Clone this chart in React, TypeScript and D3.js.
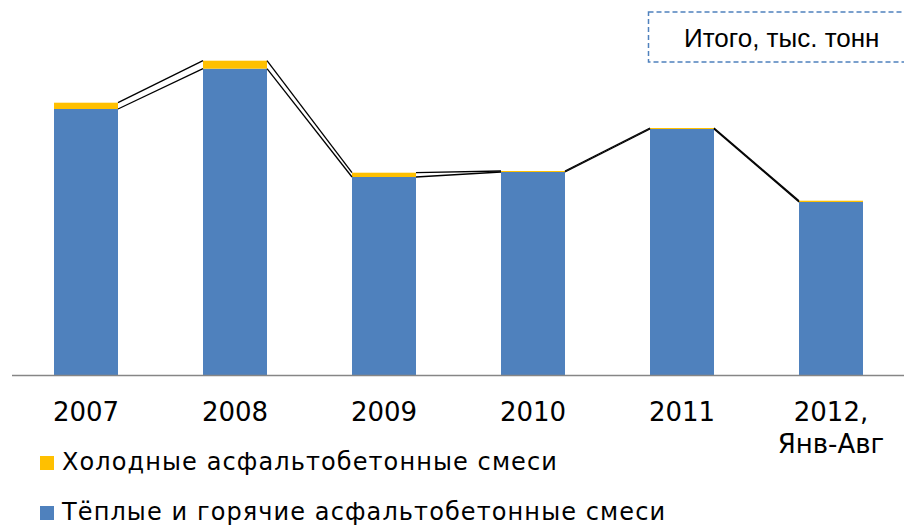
import React, { useEffect, useRef } from 'react';
import * as d3 from 'd3';

const categories = ['2007', '2008', '2009', '2010', '2011', '2012,\nЯнв-Авг'];
const warmHot = [2660, 3063, 1980, 2030, 2460, 1730];
const cold = [63, 80, 43, 10, 10, 13];
const legendLabels = ['Холодные асфальтобетонные смеси', 'Тёплые и горячие асфальтобетонные смеси'];
const totalLabel = 'Итого, тыс. тонн';

const W = 904;
const H = 526;
const BLUE = '#4F81BD';
const YELLOW = '#FFC000';

export default function App() {
  const svgRef = useRef<SVGSVGElement>(null);

  useEffect(() => {
    const svg = d3.select(svgRef.current);
    svg.selectAll('*').remove();

    const x = d3
      .scaleBand()
      .domain(categories)
      .range([11.5, 905.5])
      .paddingInner(0.5705)
      .paddingOuter(0.5705 / 2);
    const y = d3.scaleLinear().domain([0, 3750]).range([375, 0]);
    const bw = x.bandwidth();

    const rows = categories.map((c, i) => ({
      cat: c,
      warm: warmHot[i],
      cold: cold[i],
      total: warmHot[i] + cold[i],
    }));

    // bars
    const g = svg.append('g');
    g.selectAll('rect.warm')
      .data(rows)
      .enter()
      .append('rect')
      .attr('x', (d) => x(d.cat)!)
      .attr('y', (d) => y(d.warm))
      .attr('width', bw)
      .attr('height', (d) => y(0) - y(d.warm))
      .attr('fill', BLUE);

    g.selectAll('rect.cold')
      .data(rows)
      .enter()
      .append('rect')
      .attr('x', (d) => x(d.cat)!)
      .attr('y', (d) => y(d.total))
      .attr('width', bw)
      .attr('height', (d) => y(d.warm) - y(d.total))
      .attr('fill', YELLOW);

    // series lines between bar tops
    const seriesLines = (acc: (d: typeof rows[0]) => number) =>
      g
        .selectAll(null)
        .data(rows.slice(0, -1))
        .enter()
        .append('line')
        .attr('x1', (d) => x(d.cat)! + bw)
        .attr('y1', (d) => y(acc(d)))
        .attr('x2', (_, i) => x(rows[i + 1].cat)!)
        .attr('y2', (_, i) => y(acc(rows[i + 1])))
        .attr('stroke', '#000')
        .attr('stroke-width', 1.3);
    seriesLines((d) => d.warm);
    seriesLines((d) => d.total);

    // axis line
    svg
      .append('line')
      .attr('x1', 12)
      .attr('x2', W)
      .attr('y1', y(0) + 0.5)
      .attr('y2', y(0) + 0.5)
      .attr('stroke', '#868686')
      .attr('stroke-width', 1.5);

    // category labels
    const labels = svg
      .append('g')
      .attr('font-family', 'DejaVu Sans, Verdana, sans-serif')
      .attr('font-size', 26)
      .attr('fill', '#000')
      .attr('text-anchor', 'middle');
    rows.forEach((d) => {
      const cx = x(d.cat)! + bw / 2;
      const t = labels.append('text').attr('x', cx).attr('y', 421);
      d.cat.split('\n').forEach((part, k) => {
        t.append('tspan')
          .attr('x', cx)
          .attr('dy', k === 0 ? 0 : 32)
          .text(part);
      });
    });

    // legend
    const legend = svg
      .append('g')
      .attr('font-family', 'DejaVu Sans, Verdana, sans-serif')
      .attr('font-size', 24)
      .attr('letter-spacing', 1.1);
    const legendColors = [YELLOW, BLUE];
    legendLabels.forEach((lab, i) => {
      const base = 470 + i * 50;
      legend
        .append('rect')
        .attr('x', 40)
        .attr('y', base - 14)
        .attr('width', 14)
        .attr('height', 14)
        .attr('fill', legendColors[i]);
      legend
        .append('text')
        .attr('x', 62)
        .attr('y', base)
        .attr('fill', '#000')
        .text(lab);
    });

    // total label box
    svg
      .append('rect')
      .attr('x', 648.5)
      .attr('y', 12)
      .attr('width', 280)
      .attr('height', 50)
      .attr('fill', 'none')
      .attr('stroke', BLUE)
      .attr('stroke-width', 1.5)
      .attr('stroke-dasharray', '5,3');
    svg
      .append('text')
      .attr('x', 684)
      .attr('y', 47)
      .attr('font-family', 'Liberation Sans, Arial, sans-serif')
      .attr('font-size', 26)
      .attr('fill', '#000')
      .text(totalLabel);
  }, []);

  return (
    <svg
      ref={svgRef}
      width={W}
      height={H}
      style={{ position: 'absolute', left: 0, top: 0, background: '#fff' }}
    />
  );
}
